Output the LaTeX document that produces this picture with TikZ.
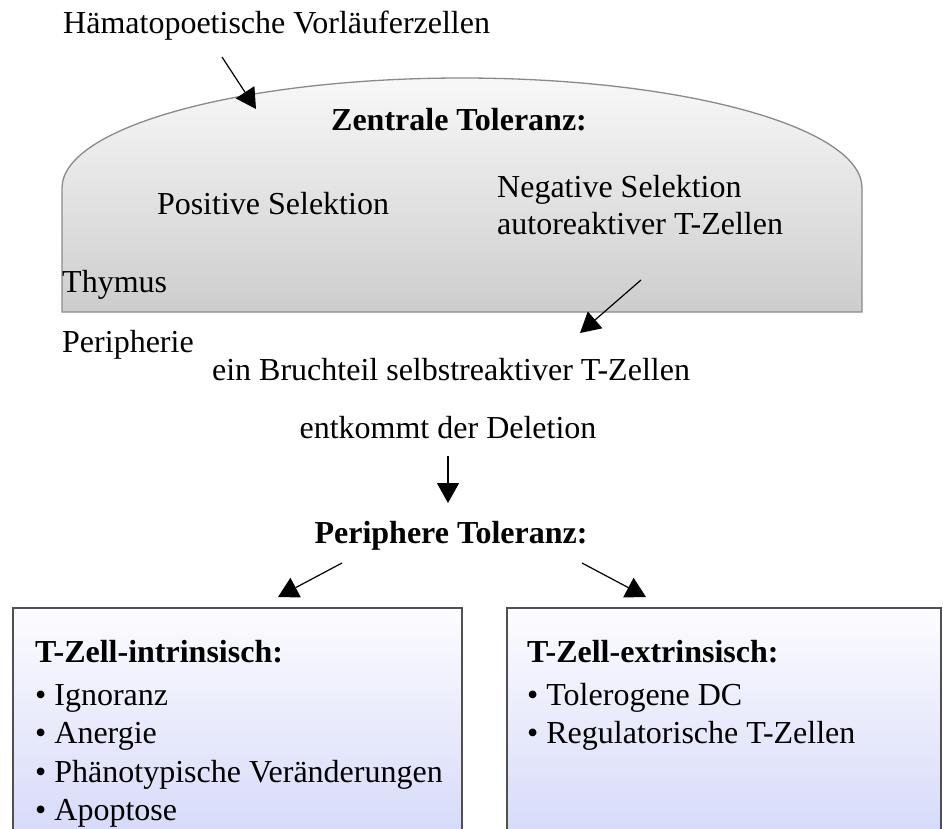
\documentclass[tikz,border=0pt]{standalone}
\usepackage{fontspec}
\setmainfont{Liberation Serif}
\usetikzlibrary{arrows.meta}
\definecolor{domeTop}{HTML}{F8F8F8}
\definecolor{domeBot}{HTML}{CDCDCD}
\definecolor{domeLine}{HTML}{8A8A8A}
\definecolor{boxTop}{HTML}{FCFCFF}
\definecolor{boxBot}{HTML}{D6DAF8}
\definecolor{boxLine}{HTML}{505050}
\begin{document}
\begin{tikzpicture}[x=1pt,y=-1pt,
  every node/.style={inner sep=0pt, font=\fontsize{32}{38}\selectfont},
  lbl/.style={anchor=base west},
  clbl/.style={anchor=base},
  bold/.style={font=\fontsize{32}{38}\selectfont\bfseries},
  arr/.style={-{Triangle[width=22pt,length=20pt]}, line width=1.2pt},
  dome/.style={top color=domeTop, bottom color=domeBot, draw=domeLine, line width=1.3pt},
  listbox/.style={top color=boxTop, bottom color=boxBot, draw=boxLine, line width=1.3pt}]
\useasboundingbox (0,0) rectangle (943,828);
\clip (0,0) rectangle (943,828);
% thymus dome
\shade[dome] (62,312) -- (62,188) arc[start angle=180,end angle=360,x radius=400,y radius=110] -- (862,312) -- cycle;
% boxes
\shade[listbox] (13,608) rectangle (462,836);
\shade[listbox] (507,608) rectangle (941,836);
% texts
\node[lbl] (hvz) at (63,33) {Hämatopoetische Vorläuferzellen};
\node[clbl,bold] (zt) at (459,130) {Zentrale Toleranz:};
\node[clbl] (ps) at (273,214) {Positive Selektion};
\node[lbl] (ns1) at (497,197) {Negative Selektion};
\node[lbl] (ns2) at (497,234) {autoreaktiver T-Zellen};
\node[lbl] (thy) at (62,292) {Thymus};
\node[lbl] (per) at (62,352) {Peripherie};
\node[clbl] (bt) at (451,380) {ein Bruchteil selbstreaktiver T-Zellen};
\node[clbl] (ed) at (448,438) {entkommt der Deletion};
\node[clbl,bold] (pt) at (451,543) {Periphere Toleranz:};
\node[lbl,bold] (ti) at (35,662) {T-Zell-intrinsisch:};
\node[lbl] (ti1) at (35,705) {• Ignoranz};
\node[lbl] (ti2) at (35,743) {• Anergie};
\node[lbl] (ti3) at (35,782) {• Phänotypische Veränderungen};
\node[lbl] (ti4) at (35,820) {• Apoptose};
\node[lbl,bold] (te) at (527,662) {T-Zell-extrinsisch:};
\node[lbl] (te1) at (527,705) {• Tolerogene DC};
\node[lbl] (te2) at (527,743) {• Regulatorische T-Zellen};
% arrow end points
\coordinate (a1s) at (222,57);  \coordinate (a1e) at (256,109);
\coordinate (a2s) at (641,280); \coordinate (a2e) at (580,333);
\coordinate (a3s) at (448,456); \coordinate (a3e) at (448,503);
\coordinate (a4s) at (342,563); \coordinate (a4e) at (278,597);
\coordinate (a5s) at (582,563); \coordinate (a5e) at (646,597);
\draw[arr] (a1s) -- (a1e);
\draw[arr] (a2s) -- (a2e);
\draw[arr] (a3s) -- (a3e);
\draw[arr] (a4s) -- (a4e);
\draw[arr] (a5s) -- (a5e);
\end{tikzpicture}
\end{document}
